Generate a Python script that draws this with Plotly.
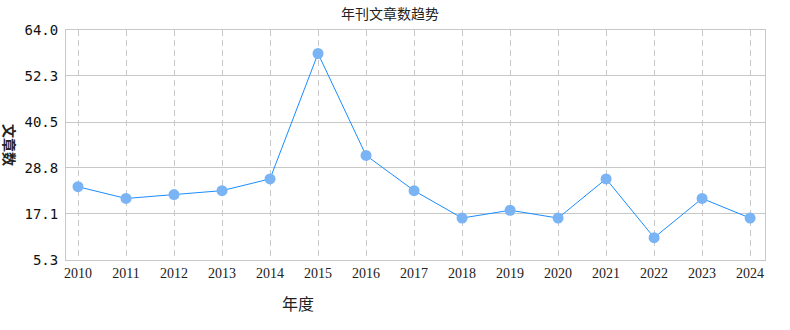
import plotly.graph_objects as go

years = [2010, 2011, 2012, 2013, 2014, 2015, 2016, 2017, 2018, 2019, 2020, 2021, 2022, 2023, 2024]
counts = [24, 21, 22, 23, 26, 58, 32, 23, 16, 18, 16, 26, 11, 21, 16]
y_ticks = [5.3, 17.1, 28.8, 40.5, 52.3, 64.0]
y_tick_text = ["5.3", "17.1", "28.8", "40.5", "52.3", "64.0"]

fig = go.Figure()
fig.add_trace(go.Scatter(
    x=years, y=counts, mode="lines+markers",
    line=dict(color="#1a8cff", width=1),
    marker=dict(color="#7ab4f5", size=11),
    hoverinfo="x+y", showlegend=False,
))

fig.update_layout(
    width=790, height=330,
    margin=dict(l=66, r=25, t=30, b=70),
    paper_bgcolor="white", plot_bgcolor="white",
    title=dict(text="年刊文章数趋势", x=390 / 790, xanchor="center", y=1 - 14 / 330, yanchor="middle",
               font=dict(family="Noto Sans CJK SC", size=14, color="#222")),
    xaxis=dict(
        range=[2009.75, 2024.31], tickmode="array", tickvals=years,
        ticktext=[str(y) for y in years],
        showgrid=True, gridcolor="#c8c8c8", griddash="6px,4px", gridwidth=1,
        showline=True, linecolor="#c8c8c8", linewidth=1, mirror=True,
        zeroline=False, ticks="",
        tickfont=dict(family="Liberation Serif", size=14, color="#222"),
    ),
    yaxis=dict(
        range=[5.3, 64.0], tickmode="array", tickvals=y_ticks, ticktext=y_tick_text,
        showgrid=True, gridcolor="#c8c8c8", gridwidth=1,
        showline=True, linecolor="#c8c8c8", linewidth=1, mirror=True,
        zeroline=False, ticks="", ticklabelstandoff=4,
        tickfont=dict(family="DejaVu Sans Mono", size=14, color="#111"),
    ),
    annotations=[
        dict(text="年度", xref="paper", yref="paper", x=(298 - 66) / 699, y=-43 / 230,
             showarrow=False, xanchor="center", yanchor="middle",
             font=dict(family="Noto Sans CJK SC", size=16, color="#222")),
        dict(text="<b>文章数</b>", xref="paper", yref="paper", x=-56 / 699, y=(260 - 145) / 230,
             showarrow=False, xanchor="center", yanchor="middle", textangle=90,
             font=dict(family="Noto Sans CJK SC", size=14, color="#222")),
    ],
)

fig.write_html("out.html")
